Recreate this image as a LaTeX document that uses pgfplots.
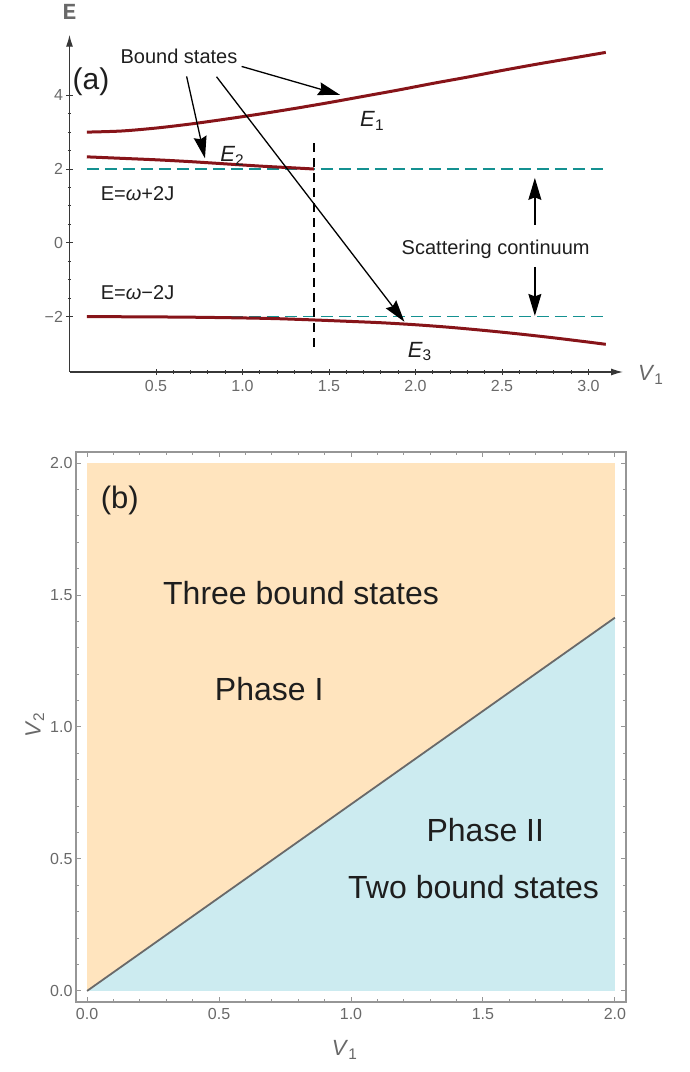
\documentclass[border=0pt]{standalone}
\usepackage{fontspec}
\setmainfont{Liberation Sans}
\setmonofont{Liberation Mono}
\usepackage{pgfplots}
\pgfplotsset{compat=1.18}
\usetikzlibrary{arrows.meta}
\definecolor{curve}{RGB}{135,20,25}
\definecolor{tealc}{RGB}{20,145,145}
\definecolor{tickgray}{RGB}{105,105,105}
\definecolor{axgray}{RGB}{55,55,55}
\definecolor{framegray}{RGB}{150,150,150}
\definecolor{phaseI}{RGB}{255,228,190}
\definecolor{phaseII}{RGB}{204,235,240}
\definecolor{txt}{RGB}{30,30,30}
\definecolor{bline}{RGB}{105,105,105}
\newcommand{\fs}[1]{\fontsize{#1}{#1}\selectfont}
\tikzset{ann/.style={-{Stealth[length=22pt,width=13pt,inset=2.5pt]}, line width=1.3pt, black}}

\pgfplotstableread{
x y
0.1 3.00
0.3 3.03
0.5 3.11
0.7 3.22
0.9 3.35
1.1 3.49
1.3 3.64
1.5 3.80
1.7 3.97
1.9 4.14
2.1 4.32
2.3 4.49
2.5 4.67
2.7 4.84
2.9 5.00
3.1 5.16
}\Eone
\pgfplotstableread{
x y
0.1 2.33
0.3 2.29
0.5 2.25
0.7 2.20
0.9 2.14
1.1 2.08
1.3 2.03
1.414 2.00
}\Etwo
\pgfplotstableread{
x y
0.1 -2.000
0.4 -2.005
0.7 -2.015
1.0 -2.035
1.2 -2.055
1.414 -2.090
1.6 -2.125
1.8 -2.165
2.0 -2.220
2.2 -2.290
2.4 -2.375
2.6 -2.470
2.8 -2.575
3.0 -2.690
3.1 -2.750
}\Ethree

\begin{document}
\begin{tikzpicture}
% ---------------- panel (a)
\begin{axis}[
  at={(69.5pt,700pt)}, anchor=south west,
  scale only axis, width=553.6pt, height=337.3pt,
  xmin=0, xmax=3.2, ymin=-3.5, ymax=5.64,
  enlargelimits=false, clip=false,
  axis lines=left,
  axis line style={axgray, line width=1.3pt, -{Latex[length=12pt,width=7pt]}},
  xtick={0.5,1.0,1.5,2.0,2.5,3.0},
  xticklabels={0.5,1.0,1.5,2.0,2.5,3.0},
  ytick={-2,0,2,4},
  yticklabels={−2,0,2,4},
  minor x tick num=4, minor y tick num=3,
  major tick length=6pt, minor tick length=3.5pt,
  tick style={axgray, line width=1pt},
  tick label style={font=\fs{16}, text=tickgray},
  xticklabel style={yshift=-2pt},
]
\addplot[tealc, line width=1.6pt, dash pattern=on 12pt off 6pt] coordinates {(0.1,2)(3.1,2)};
\addplot[tealc, line width=1.6pt, dash pattern=on 12pt off 6pt] coordinates {(0.1,-2)(3.1,-2)};
\addplot[black, line width=1.5pt, dash pattern=on 9pt off 6pt] coordinates {(1.414,2.7)(1.414,-2.95)};
\addplot[curve, line width=3pt, smooth] table[x=x,y=y] {\Eone};
\addplot[curve, line width=3pt, smooth] table[x=x,y=y] {\Etwo};
\addplot[curve, line width=3pt, smooth] table[x=x,y=y] {\Ethree};

\node[anchor=center, font=\fs{30}, text=txt] at (axis cs:0.124,4.37) {(a)};
\node[anchor=base west, font=\fs{20}, text=txt] at (axis cs:0.275,4.87) {Bound states};
\draw[ann] (axis cs:0.995,4.78) -- (axis cs:1.564,4.01);
\draw[ann] (axis cs:0.677,4.51) -- (axis cs:0.783,2.29);
\draw[ann] (axis cs:0.85,4.50) -- (axis cs:1.936,-2.14);
\node[anchor=base west, font=\fs{22}, text=txt] at (axis cs:1.66,3.15) {\textit{E}\textsubscript{1}};
\node[anchor=base west, font=\fs{22}, text=txt] at (axis cs:0.851,2.20) {\textit{E}\textsubscript{2}};
\node[anchor=base west, font=\fs{22}, text=txt] at (axis cs:1.935,-3.10) {\textit{E}\textsubscript{3}};
\node[anchor=base west, font=\fs{20}, text=txt] at (axis cs:0.161,1.14) {E=\textit{ω}+2J};
\node[anchor=base west, font=\fs{20}, text=txt] at (axis cs:0.161,-1.53) {E=\textit{ω}−2J};
\node[anchor=base west, font=\fs{20}, text=txt] at (axis cs:1.90,-0.31) {Scattering continuum};
\draw[ann] (axis cs:2.69,0.49) -- (axis cs:2.69,1.76);
\draw[ann] (axis cs:2.69,-0.65) -- (axis cs:2.69,-1.98);
\node[anchor=center, font=\fs{23}\ttfamily\bfseries, text=tickgray] at (axis cs:0,6.26) {E};
\node[anchor=center, font=\fs{22}, text=tickgray] at (axis cs:3.36,-3.58) {\textit{V}\textsubscript{1}};
\end{axis}
% ---------------- panel (b)
\begin{axis}[
  at={(76pt,70pt)}, anchor=south west,
  scale only axis, width=550pt, height=550pt,
  xmin=-0.042, xmax=2.042, ymin=-0.042, ymax=2.042,
  enlargelimits=false, clip=false,
  axis line style={framegray, line width=1.3pt},
  xtick={0,0.5,1,1.5,2}, xticklabels={0.0,0.5,1.0,1.5,2.0},
  ytick={0,0.5,1,1.5,2}, yticklabels={0.0,0.5,1.0,1.5,2.0},
  minor x tick num=4, minor y tick num=4,
  major tick length=5pt, minor tick length=3pt,
  tick style={framegray, line width=1pt},
  tick label style={font=\fs{16}, text=tickgray},
  xticklabel style={yshift=-3pt},
]
\addplot[draw=none, fill=phaseI, forget plot] coordinates {(0,0)(0,2)(2,2)(2,1.4142)} -- cycle;
\addplot[draw=none, fill=phaseII, forget plot] coordinates {(0,0)(2,1.4142)(2,0)} -- cycle;
\addplot[bline, line width=1.8pt] coordinates {(0,0)(2,1.4142)};
\node[anchor=center, font=\fs{31}, text=txt] at (axis cs:0.124,1.86) {(b)};
\node[anchor=base west, font=\fs{32}, text=txt] at (axis cs:0.275,1.466) {Three bound states};
\node[anchor=base west, font=\fs{32}, text=txt] at (axis cs:0.471,1.10) {Phase I};
\node[anchor=base west, font=\fs{32}, text=txt] at (axis cs:1.273,0.566) {Phase II};
\node[anchor=base west, font=\fs{32}, text=txt] at (axis cs:0.976,0.351) {Two bound states};
\node[anchor=center, rotate=90, font=\fs{22}, text=tickgray] at (axis cs:-0.198,1.008) {\textit{V}\textsubscript{2}};
\node[anchor=center, font=\fs{22}, text=tickgray] at (axis cs:0.976,-0.223) {\textit{V}\textsubscript{1}};
\end{axis}
\pgfresetboundingbox
\path[use as bounding box] (0pt,0pt) rectangle (690pt,1072pt);
\end{tikzpicture}
\end{document}
